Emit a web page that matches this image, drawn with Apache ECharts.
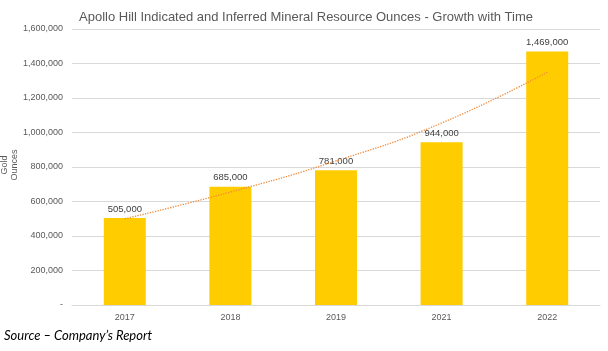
<!DOCTYPE html>
<html>
<head>
<meta charset="utf-8">
<script src="https://cdn.jsdelivr.net/npm/echarts@6/dist/echarts.min.js"></script>
<style>
  html, body { margin: 0; padding: 0; background: #fff; }
  #chart { width: 608px; height: 351px; }
</style>
</head>
<body>
<div id="chart"></div>
<script>
// -- data --
let years = ['2017', '2018', '2019', '2021', '2022'];
let ounces = [505000, 685000, 781000, 944000, 1469000];
// dotted trend line
let trend = [500000, 655000, 835000, 1055000, 1350000];

let chart = echarts.init(document.getElementById('chart'));

let option = {
  animation: false,
  title: {
    text: 'Apollo Hill Indicated and Inferred Mineral Resource Ounces - Growth with Time',
    left: 301,
    textAlign: 'center',
    top: 6,
    textStyle: {
      fontFamily: 'Liberation Sans',
      fontSize: 13,
      fontWeight: 'normal',
      color: '#595959'
    }
  },
  grid: {
    left: 72,
    right: 8,
    top: 29,
    bottom: 46,
    outerBoundsMode: 'none',
    containLabel: false
  },
  xAxis: {
    type: 'category',
    data: years,
    axisTick: {show: false},
    axisLine: {lineStyle: {color: '#d9d9d9'}},
    axisLabel: {
      fontFamily: 'Liberation Sans',
      fontSize: 9,
      color: '#595959',
      margin: 8
    }
  },
  yAxis: {
    type: 'value',
    min: 0,
    max: 1600000,
    interval: 200000,
    splitLine: {lineStyle: {color: '#d9d9d9'}},
    axisLabel: {
      fontFamily: 'Liberation Sans',
      fontSize: 9,
      color: '#595959',
      margin: 9,
      formatter: function (v) {
        return v === 0 ? '-' : v.toLocaleString('en-US');
      }
    }
  },
  series: [{
    type: 'bar',
    data: ounces,
    barWidth: 42,
    itemStyle: {color: '#ffcc00'},
    label: {
      show: true,
      position: 'top',
      distance: 4,
      fontFamily: 'Liberation Sans',
      fontSize: 9.5,
      color: '#404040',
      formatter: function (p) {
        return p.value.toLocaleString('en-US');
      }
    }
  }, {
    type: 'line',
    data: trend,
    smooth: true,
    symbol: 'none',
    z: 5,
    lineStyle: {
      color: '#f08a3c',
      width: 1.3,
      type: 'dotted'
    }
  }],
  graphic: [{
    // y axis title
    type: 'text',
    x: 10,
    y: 165,
    rotation: Math.PI / 2,
    style: {
      text: 'Gold\nOunces',
      font: '9px "Liberation Sans"',
      fill: '#595959',
      align: 'center',
      verticalAlign: 'middle',
      lineHeight: 10
    }
  }, {
    type: 'text',
    left: 4,
    top: 329,
    style: {
      text: 'Source – Company’s Report',
      font: 'italic 13px Lato',
      fill: '#000'
    }
  }]
};

chart.setOption(option);
</script>
</body>
</html>
